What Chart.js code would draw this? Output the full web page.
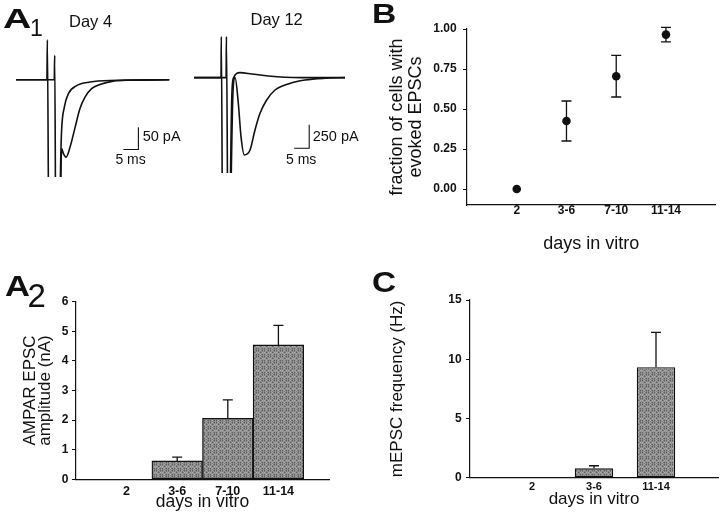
<!DOCTYPE html>
<html>
<head>
<meta charset="utf-8">
<script src="https://cdn.jsdelivr.net/npm/chart.js@4.4.1/dist/chart.umd.min.js"></script>
<style>
  body { margin: 0; background: #fff; }
  #fig { position: relative; width: 720px; height: 520px; overflow: hidden; background: #fff; }
  #fig canvas { position: absolute; }
  .t { position: absolute; font-family: 'Liberation Sans', Arial, sans-serif; line-height: 1; color: #111; white-space: nowrap; transform-origin: 0 0; }
</style>
</head>
<body>
<div id="fig">
  <canvas id="day4" width="156" height="147" style="left:16px;top:29.5px"></canvas>
  <canvas id="day12" width="156" height="143" style="left:194px;top:30px"></canvas>
  <canvas id="panelB" width="360" height="260" style="left:360px;top:0px"></canvas>
  <canvas id="panelA2" width="360" height="260" style="left:0px;top:260px"></canvas>
  <canvas id="panelC" width="360" height="260" style="left:360px;top:260px"></canvas>

  <div class="t" style="left:3px;top:4.6px;font-size:28px;font-weight:bold;transform:scaleX(1.4)">A</div>
  <div class="t" style="left:30px;top:17px;font-size:23px">1</div>
  <div class="t" style="left:69px;top:12.9px;font-size:16.5px">Day 4</div>
  <div class="t" style="left:250.5px;top:11.4px;font-size:16.5px">Day 12</div>
  <div class="t" style="left:142.7px;top:128.8px;font-size:14.5px">50 pA</div>
  <div class="t" style="left:115.4px;top:151.5px;font-size:14px">5 ms</div>
  <div class="t" style="left:312.7px;top:129.2px;font-size:14.5px">250 pA</div>
  <div class="t" style="left:286px;top:151.5px;font-size:14px">5 ms</div>
  <div class="t" style="left:371.5px;top:-0.3px;font-size:28px;font-weight:bold;transform:scaleX(1.2)">B</div>
  <div class="t" style="left:5px;top:271px;font-size:30px;font-weight:bold;transform:scaleX(1.15)">A</div>
  <div class="t" style="left:27.5px;top:279px;font-size:33px">2</div>
  <div class="t" style="left:372px;top:268px;font-size:29px;font-weight:bold;transform:scaleX(1.15)">C</div>
</div>
<script>
// A1 traces: time (ms) and current (pA)
const day4SlowT = [0, 10.3, 10.45, 11.0, 14.5, 15.2, 15.8, 16.7, 18, 19.7, 21.3, 23, 25.2, 28, 32.4, 36.9, 51.1];
const day4SlowI = [0, 0, 90, -400, -400, -155, -166, -174, -152, -107, -65, -39, -20, -10.5, -3, -1, 0];
const day4FastT = [0, 12.75, 12.9, 13.3, 14.4, 14.9, 15.2, 16.1, 17.4, 20.2, 24.7, 31.3, 51.1];
const day4FastI = [0, 0, 55, -400, -400, -182, -114, -62, -32, -13, -5, -1.5, 0];
const day4BarT = [35.8, 40.8, 40.8];
const day4BarI = [-157, -157, -107];

const day12SlowT = [0, 9, 9.1, 9.6, 11.7, 13.0, 13.7, 14.77, 15.67, 16.77, 18.67, 20.33, 22, 24.23, 27, 31.43, 37, 43.67, 50.33];
const day12SlowI = [0, 0, 439, -2000, -2000, -150, 0, -274, -631, -827, -774, -560, -381, -239, -132, -67, -25, -6, 0];
const day12FastT = [0, 10.7, 10.8, 11.4, 11.6, 12.6, 13.1, 15.33, 19.23, 24.77, 30.33, 35.9, 50.33];
const day12FastI = [0, 0, 439, -2000, -2000, -200, -6, 53.5, 39.6, 18, 4, 0, 0];
const day12BarT = [33.4, 38.4, 38.4];
const day12BarI = [-755, -755, -505];

// B: fraction of cells with evoked EPSCs
const dayLabels = ['2', '3-6', '7-10', '11-14'];
const dayPos = [2, 3, 4, 5];
const fracMean = [0, 0.425, 0.705, 0.965];
const fracErr = [0, 0.125, 0.13, 0.045];
const fracTicks = [0, 0.25, 0.5, 0.75, 1];

// A2: AMPAR EPSC amplitude (nA)
const ampMean = [0, 0.62, 2.06, 4.54];
const ampErr = [0, 0.13, 0.62, 0.66];
const ampTicks = [0, 1, 2, 3, 4, 5, 6];

// C: mEPSC frequency (Hz)
const freqLabels = ['2', '3-6', '11-14'];
const freqPos = [2, 3, 4];
const freqMean = [0, 0.79, 9.32];
const freqErr = [0, 0.22, 2.95];
const freqTicks = [0, 5, 10, 15];

Chart.defaults.font.family = "'Liberation Sans', Arial, sans-serif";
Chart.defaults.color = '#111';
Chart.defaults.animation = false;

const ink = '#111';

// grainy grey fill like the printed bars
function stipple() {
  const c = document.createElement('canvas');
  c.width = c.height = 6;
  const g = c.getContext('2d');
  const greys = ['#5e5e5e', '#959595', '#ababab', '#7c7c7c'];
  for (let i = 0; i < 6; i++) {
    for (let j = 0; j < 6; j++) {
      g.fillStyle = greys[(i * 5 + j * 3 + i * j) % 4];
      g.fillRect(i, j, 1, 1);
    }
  }
  return g.createPattern(c, 'repeat');
}
const barFill = stipple();

function pairs(xs, ys) {
  return xs.map((v, i) => ({ x: v, y: ys[i] }));
}

function traceSet(t, amp) {
  return { data: pairs(t, amp), borderColor: ink, borderWidth: 1.6, pointRadius: 0, cubicInterpolationMode: 'monotone', fill: false };
}

function scaleBarSet(t, amp) {
  return { data: pairs(t, amp), borderColor: ink, borderWidth: 1.1, pointRadius: 0, tension: 0, fill: false };
}

function traceChart(id, sets, yMin, yMax) {
  new Chart(document.getElementById(id), {
    type: 'line',
    data: { datasets: sets },
    options: {
      responsive: false,
      events: [],
      layout: { padding: 0 },
      plugins: { legend: { display: false }, tooltip: { enabled: false } },
      scales: {
        x: { type: 'linear', display: false, min: 0, max: 52 },
        y: { type: 'linear', display: false, min: yMin, max: yMax }
      }
    }
  });
}

traceChart('day4', [traceSet(day4SlowT, day4SlowI), traceSet(day4FastT, day4FastI), scaleBarSet(day4BarT, day4BarI)], -218.75, 112);
traceChart('day12', [traceSet(day12SlowT, day12SlowI), traceSet(day12FastT, day12FastI), scaleBarSet(day12BarT, day12BarI)], -1020.1, 510);

// draws error bars stored on the first dataset
const errorBars = {
  id: 'errorBars',
  afterDatasetsDraw(chart) {
    const ds = chart.data.datasets[0];
    if (!ds.errors) return;
    const { ctx, scales: { x, y } } = chart;
    ctx.save();
    ctx.strokeStyle = ink;
    ctx.lineWidth = 1.3;
    ds.data.forEach((p, i) => {
      const e = ds.errors[i];
      if (!e) return;
      const px = x.getPixelForValue(p.x);
      const hi = y.getPixelForValue(p.y + e);
      const lo = y.getPixelForValue(ds.bothWays ? p.y - e : p.y);
      ctx.beginPath();
      ctx.moveTo(px, lo);
      ctx.lineTo(px, hi);
      ctx.moveTo(px - 5, hi);
      ctx.lineTo(px + 5, hi);
      if (ds.bothWays) {
        ctx.moveTo(px - 5, lo);
        ctx.lineTo(px + 5, lo);
      }
      ctx.stroke();
    });
    ctx.restore();
  }
};

function yAxis(o) {
  return {
    type: 'linear', min: o.min, max: o.max,
    afterFit: s => { s.width = o.width; },
    afterBuildTicks: s => { s.ticks = o.ticks.map(v => ({ value: v })); },
    grid: { drawOnChartArea: false, drawTicks: true, tickLength: 4, color: ink, lineWidth: 1 },
    border: { display: true, color: ink, width: 1.2 },
    ticks: { padding: o.pad, color: ink, font: { size: 12, weight: 'bold', lineHeight: 1 }, callback: o.fmt },
    title: { display: true, text: o.title, color: ink, font: { size: o.tsize, lineHeight: o.tlh }, padding: { top: o.tpad, bottom: 0 } }
  };
}

function xAxis(o) {
  return {
    type: 'linear', min: o.min, max: o.max, offset: false,
    afterFit: s => { s.height = o.height; },
    afterBuildTicks: s => { s.ticks = o.pos.map(v => ({ value: v })); },
    grid: { display: false, drawTicks: false },
    border: { display: true, color: ink, width: 1.2 },
    ticks: { padding: o.pad, autoSkip: false, maxRotation: 0, color: ink, font: { size: o.size, weight: 'bold', lineHeight: 1 }, callback: (v, i) => o.labels[i] },
    title: { display: true, text: 'days in vitro', color: ink, font: { size: o.tsize, lineHeight: 1.05 }, padding: { top: 0, bottom: o.tpad } }
  };
}

function panelOptions(padding, x, y) {
  return {
    responsive: false,
    events: [],
    layout: { padding },
    plugins: { legend: { display: false }, tooltip: { enabled: false } },
    scales: { x, y }
  };
}

// B
new Chart(document.getElementById('panelB'), {
  type: 'scatter',
  data: {
    datasets: [{ data: pairs(dayPos, fracMean), errors: fracErr, bothWays: true, pointRadius: 4.3, backgroundColor: ink, borderWidth: 0 }]
  },
  options: panelOptions({ left: 0, top: 29, right: 2, bottom: 0 },
    xAxis({ min: 1, max: 6, height: 55, pos: dayPos, labels: dayLabels, pad: 0, size: 12, tsize: 18, tpad: 6.8 }),
    yAxis({ min: -0.1, max: 1, width: 107, ticks: fracTicks, pad: 6.3, fmt: v => v.toFixed(2),
      title: ['fraction of cells with', 'evoked EPSCs'], tsize: 18, tlh: 1.07, tpad: 27.5 })),
  plugins: [errorBars]
});

// A2
new Chart(document.getElementById('panelA2'), {
  type: 'bar',
  data: {
    datasets: [{ data: pairs(dayPos, ampMean), errors: ampErr, backgroundColor: barFill, borderColor: ink, borderWidth: 1.3, borderSkipped: false, barPercentage: 1, categoryPercentage: 1 }]
  },
  options: panelOptions({ left: 0, top: 41.7, right: 31, bottom: 0 },
    xAxis({ min: 1, max: 6, height: 40.7, pos: dayPos, labels: dayLabels, pad: 6.4, size: 12.5, tsize: 17.5, tpad: 8.6 }),
    yAxis({ min: 0, max: 6, width: 76, ticks: ampTicks, pad: 3.7, fmt: v => String(v),
      title: ['AMPAR EPSC', 'amplitude (nA)'], tsize: 17, tlh: 0.88, tpad: 22.6 })),
  plugins: [errorBars]
});

// C
new Chart(document.getElementById('panelC'), {
  type: 'bar',
  data: {
    datasets: [{ data: pairs(freqPos, freqMean), errors: freqErr, backgroundColor: barFill, borderColor: ink, borderWidth: 1.3, borderSkipped: false, barPercentage: 0.62, categoryPercentage: 1 }]
  },
  options: panelOptions({ left: 0, top: 40, right: 2, bottom: 0 },
    xAxis({ min: 1, max: 5, height: 42.3, pos: freqPos, labels: freqLabels, pad: 3.3, size: 11, tsize: 17, tpad: 12 }),
    yAxis({ min: 0, max: 15, width: 110, ticks: freqTicks, pad: 4.3, fmt: v => String(v),
      title: 'mEPSC frequency (Hz)', tsize: 17, tlh: 1.05, tpad: 28.5 })),
  plugins: [errorBars]
});
</script>
</body>
</html>
